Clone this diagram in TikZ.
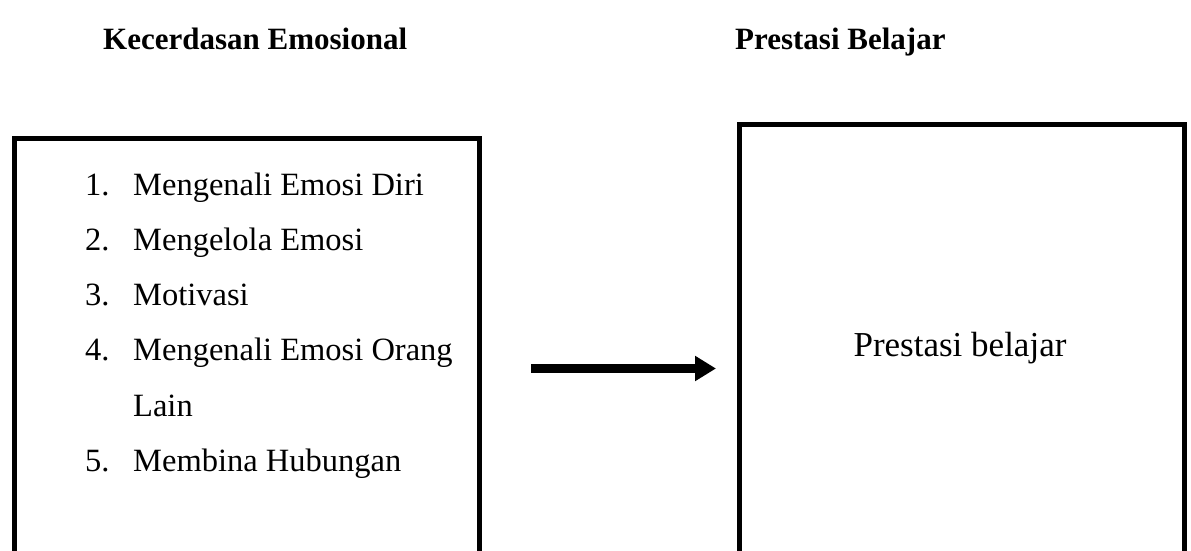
\documentclass[tikz,border=0pt]{standalone}
\usepackage{fontspec}
\setmainfont{Liberation Serif}
\usetikzlibrary{arrows.meta}
\begin{document}
\begin{tikzpicture}[x=1bp,y=-1bp,
  boxline/.style={draw, line width=5bp, inner sep=0, outer sep=0, anchor=north west},
  item/.style={anchor=base west, inner sep=0, font=\fontsize{32.5bp}{40bp}\selectfont},
  head/.style={anchor=base west, inner sep=0, font=\fontsize{31bp}{38bp}\selectfont\bfseries},
  arrowline/.style={line width=9bp, -{Triangle[length=21bp,width=24bp]}}
]
\useasboundingbox (0,0) rectangle (1191,551);
\clip (0,0) rectangle (1191,551);
% headings
\node[head] (h1) at (103,50) {Kecerdasan Emosional};
\node[head] (h2) at (735,50) {Prestasi Belajar};
% boxes
\node[boxline, minimum width=465bp, minimum height=600bp] (leftbox) at (14.5,138.5) {};
\node[boxline, minimum width=445bp, minimum height=600bp] (rightbox) at (739.5,124.5) {};
% list
\node[item] (n1) at (85,196) {1.};
\node[item] (t1) at (133,196) {Mengenali Emosi Diri};
\node[item] (n2) at (85,251) {2.};
\node[item] (t2) at (133,251) {Mengelola Emosi};
\node[item] (n3) at (85,306) {3.};
\node[item] (t3) at (133,306) {Motivasi};
\node[item] (n4) at (85,361) {4.};
\node[item] (t4) at (133,361) {Mengenali Emosi Orang};
\node[item] (t4b) at (133,416) {Lain};
\node[item] (n5) at (85,471) {5.};
\node[item] (t5) at (133,471) {Membina Hubungan};
% right text
\node[anchor=base, inner sep=0, font=\fontsize{35bp}{42bp}\selectfont] (pb) at (960,357) {Prestasi belajar};
% arrow
\coordinate (a1) at (531,368.5);
\coordinate (a2) at (716,368.5);
\draw[arrowline] (a1) -- (a2);
\end{tikzpicture}
\end{document}
